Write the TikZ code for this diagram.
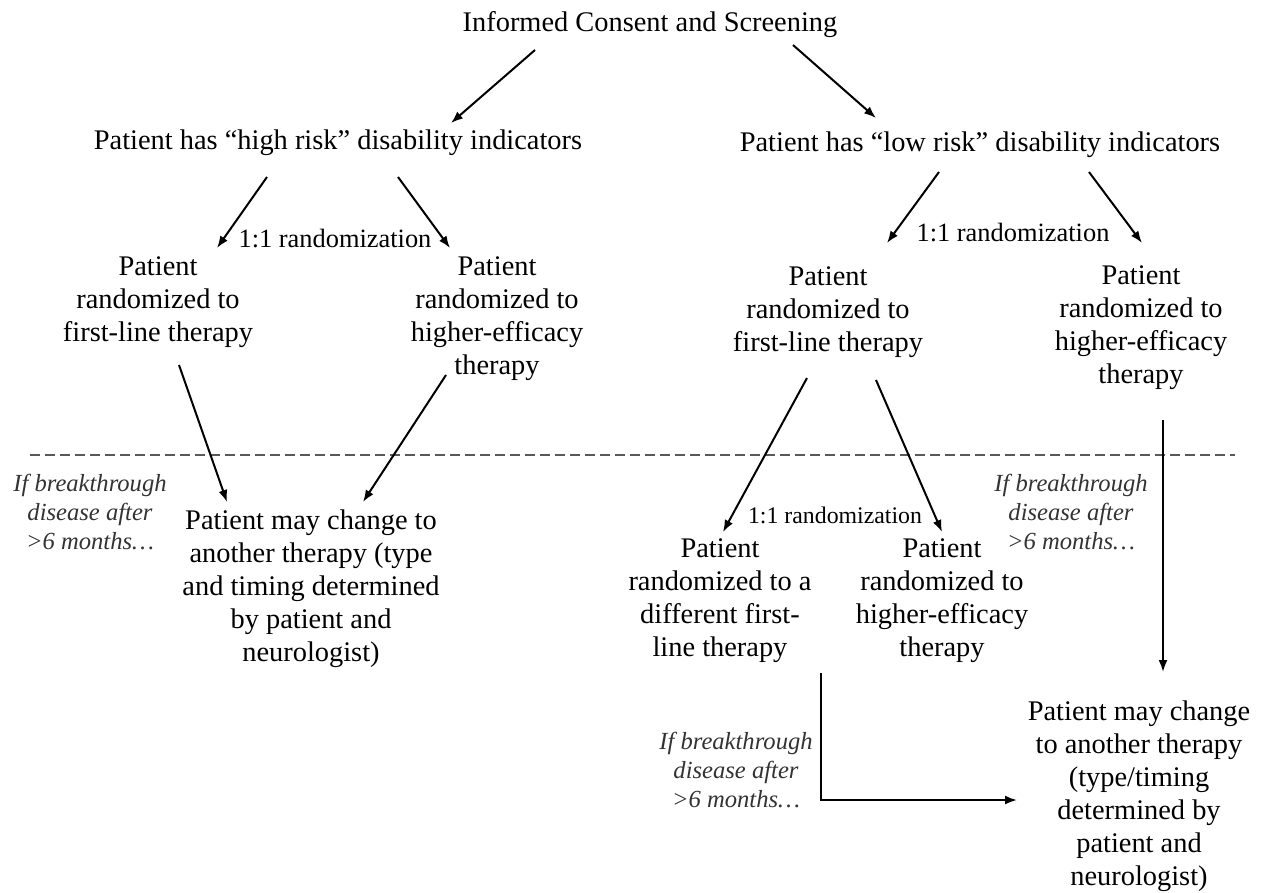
\documentclass[tikz,border=0pt]{standalone}
\usepackage{fontspec}
\setmainfont{Liberation Serif}
\usetikzlibrary{arrows.meta}
\begin{document}
\begin{tikzpicture}[x=1pt,y=-1pt,
  main/.style={align=center, font=\fontsize{28.4}{33}\selectfont, inner sep=0pt},
  rnd/.style={font=\fontsize{26.4}{30}\selectfont, inner sep=0pt},
  rndsmall/.style={font=\fontsize{23.8}{28}\selectfont, inner sep=0pt},
  note/.style={align=center, font=\fontsize{24.6}{29}\selectfont\itshape, text=black!80, inner sep=0pt},
  arr/.style={-{Latex[length=12pt,width=9pt]}, line width=2pt},
  sep/.style={dashed, dash pattern=on 10pt off 5pt, line width=1.6pt, draw=black!65},
]
\useasboundingbox (0,0) rectangle (1261,892);

% nodes
\node[main] (top) at (650,25) {Informed Consent and Screening};
\node[main] (high) at (338,143) {Patient has “high risk” disability indicators};
\node[main] (low) at (980,145) {Patient has “low risk” disability indicators};
\node[rnd] (r1) at (335,239) {1:1 randomization};
\node[rnd] (r2) at (1013,233) {1:1 randomization};
\node[rndsmall] (r3) at (835,515) {1:1 randomization};
\node[main] (hf) at (158,302) {Patient\\randomized to\\first-line therapy};
\node[main] (hh) at (497,319) {Patient\\randomized to\\higher-efficacy\\therapy};
\node[main] (lf) at (828,312) {Patient\\randomized to\\first-line therapy};
\node[main] (lh) at (1141,328) {Patient\\randomized to\\higher-efficacy\\therapy};
\node[main] (ld) at (720,601) {Patient\\randomized to a\\different first-\\line therapy};
\node[main] (lhe) at (942,601) {Patient\\randomized to\\higher-efficacy\\therapy};
\node[main] (bl) at (311,589) {Patient may change to\\another therapy (type\\and timing determined\\by patient and\\neurologist)};
\node[main] (br) at (1139,796) {Patient may change\\to another therapy\\(type/timing\\determined by\\patient and\\neurologist)};
\node[note] (n1) at (90,512) {If breakthrough\\disease after\\>6 months…};
\node[note] (n2) at (1071,512) {If breakthrough\\disease after\\>6 months…};
\node[note] (n3) at (736,770) {If breakthrough\\disease after\\>6 months…};

% connector end points
\coordinate (top-l) at (535,50);   \coordinate (high-in) at (451,123);
\coordinate (top-r) at (793,45);   \coordinate (low-in) at (876,118);
\coordinate (high-l) at (267,177); \coordinate (hf-in) at (217,248);
\coordinate (high-r) at (398,177); \coordinate (hh-in) at (450,248);
\coordinate (low-l) at (939,172);  \coordinate (lf-in) at (887,243);
\coordinate (low-r) at (1089,172); \coordinate (lh-in) at (1142,243);
\coordinate (hf-out) at (179,365); \coordinate (bl-in1) at (227,502);
\coordinate (hh-out) at (446,375); \coordinate (bl-in2) at (363,502);
\coordinate (lf-l) at (807,378);   \coordinate (ld-in) at (723,532);
\coordinate (lf-r) at (876,380);   \coordinate (lhe-in) at (942,532);
\coordinate (lh-out) at (1163,420); \coordinate (br-in1) at (1163,672);
\coordinate (ld-out) at (821,673); \coordinate (corner) at (821,800);
\coordinate (br-in2) at (1017,800);
\coordinate (sep-l) at (30,455);   \coordinate (sep-r) at (1235,455);

% separator
\draw[sep] (sep-l) -- (sep-r);

% connectors
\draw[arr] (top-l) -- (high-in);
\draw[arr] (top-r) -- (low-in);
\draw[arr] (high-l) -- (hf-in);
\draw[arr] (high-r) -- (hh-in);
\draw[arr] (low-l) -- (lf-in);
\draw[arr] (low-r) -- (lh-in);
\draw[arr] (hf-out) -- (bl-in1);
\draw[arr] (hh-out) -- (bl-in2);
\draw[arr] (lf-l) -- (ld-in);
\draw[arr] (lf-r) -- (lhe-in);
\draw[arr] (lh-out) -- (br-in1);
\draw[arr] (ld-out) -- (corner) -- (br-in2);
\end{tikzpicture}
\end{document}
